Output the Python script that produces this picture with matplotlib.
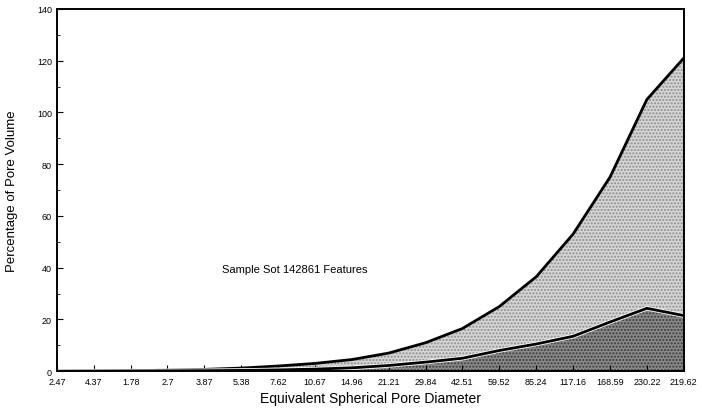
import matplotlib.pyplot as plt
import numpy as np

plt.rcParams['font.family'] = ['Liberation Sans', 'DejaVu Sans']

# Categorie asse x (diametro poro sferico equivalente)
diameters = ["2.47", "4.37", "1.78", "2.7", "3.87", "5.38", "7.62", "10.67",
             "14.96", "21.21", "29.84", "42.51", "59.52", "85.24", "117.16",
             "168.59", "230.22", "219.62"]

# Curva superiore (totale) e inferiore
upper = [0, 0.1, 0.2, 0.4, 0.7, 1.2, 2.0, 3.0, 4.5, 7.0, 11.0, 16.5,
         25.0, 36.5, 53.0, 75.0, 105.0, 121.0]
lower = [0, 0.05, 0.1, 0.15, 0.2, 0.3, 0.5, 0.8, 1.3, 2.2, 3.5, 5.0,
         8.0, 10.5, 13.5, 19.0, 24.3, 21.5]

x = np.arange(len(diameters))

fig = plt.figure(figsize=(7.02, 4.14), dpi=100)
ax = fig.add_axes([0.081, 0.101, 0.893, 0.875])

ax.fill_between(x, lower, upper, color='#d6d6d6', hatch='.....',
                edgecolor='#8c8c8c', linewidth=0)
ax.fill_between(x, 0, lower, color='#8a8a8a', hatch='.....',
                edgecolor='#3a3a3a', linewidth=0)
ax.plot(x, upper, color='black', linewidth=2)
ax.plot(x, lower, color='white', linewidth=3.2)
ax.plot(x, lower, color='black', linewidth=2)

ax.set_xlim(0, len(diameters) - 1)
ax.set_ylim(0, 140)
ax.set_xticks(x)
ax.set_xticklabels(diameters, fontsize=6.5)
ax.set_yticks(np.arange(0, 141, 20))
ax.set_yticks(np.arange(0, 141, 10), minor=True)
ax.tick_params(axis='both', which='both', direction='in', labelsize=6.5)
ax.tick_params(axis='both', which='major', length=4)
ax.tick_params(axis='both', which='minor', length=2)
ax.tick_params(axis='x', pad=4)

for s in ax.spines.values():
    s.set_linewidth(1.4)

ax.set_xlabel("Equivalent Spherical Pore Diameter", fontsize=10, labelpad=4)
ax.set_ylabel("Percentage of Pore Volume", fontsize=9.5, labelpad=14)

ax.text(0.263, 0.282, "Sample Sot 142861 Features", transform=ax.transAxes,
        fontsize=8, ha='left', va='center')

fig.savefig("out.png", dpi=100)
